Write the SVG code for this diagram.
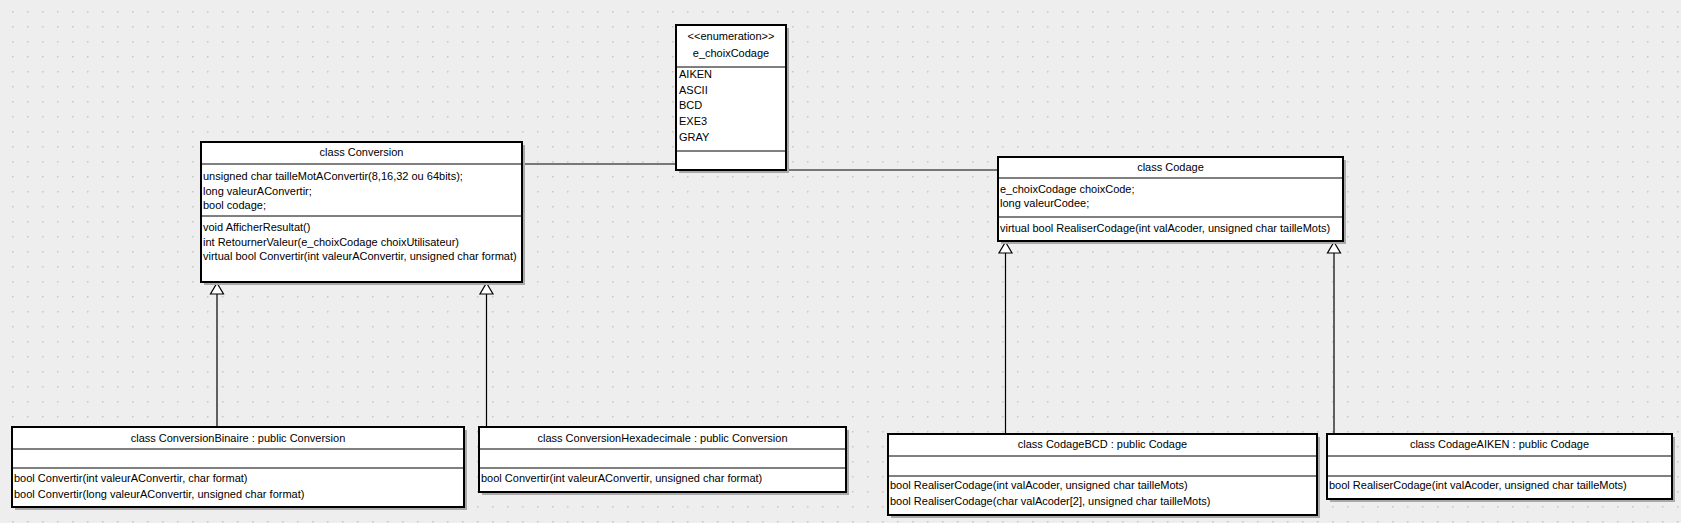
<svg xmlns="http://www.w3.org/2000/svg" width="1681" height="523" viewBox="0 0 1681 523">
<defs>
<pattern id="grid" patternUnits="userSpaceOnUse" x="12" y="11" width="15" height="15">
<rect x="0" y="0" width="1.5" height="1.5" fill="#c6c6c6"/>
</pattern>
<style>
text{font-family:"Liberation Sans",Arial,sans-serif;font-size:11px;fill:#000}
.c{text-anchor:middle}
.box{fill:#fff;stroke:#000;stroke-width:2}
.sh{fill:#a9a9a9}
.sep{stroke:#000;stroke-width:1}
.ln{stroke:#000;stroke-width:1.2;fill:none}
.tri{fill:#fff;stroke:#000;stroke-width:1.2}
</style>
</defs>
<rect width="1681" height="523" fill="#eeeeee"/>
<rect width="1681" height="523" fill="url(#grid)"/>

<g id="connectors">
<line class="ln" x1="522" y1="164" x2="676" y2="164"/>
<line class="ln" x1="786" y1="170" x2="998" y2="170"/>
<line class="ln" x1="217" y1="427" x2="217" y2="294"/>
<polygon class="tri" points="217,283 223.5,294 210.5,294"/>
<line class="ln" x1="486.5" y1="427" x2="486.5" y2="294"/>
<polygon class="tri" points="486.5,283 493,294 480,294"/>
<line class="ln" x1="1005.5" y1="434" x2="1005.5" y2="253"/>
<polygon class="tri" points="1005.5,242 1012,253 999,253"/>
<line class="ln" x1="1334" y1="434" x2="1334" y2="253"/>
<polygon class="tri" points="1334,242 1340.5,253 1327.5,253"/>
</g>

<g id="e_choixCodage">
<rect class="sh" x="679" y="28" width="110" height="145"/>
<rect class="box" x="676" y="25" width="110" height="145"/>
<line class="sep" x1="676" y1="67" x2="786" y2="67"/>
<line class="sep" x1="676" y1="151" x2="786" y2="151"/>
<text class="c" x="731" y="40">&lt;&lt;enumeration&gt;&gt;</text>
<text class="c" x="731" y="57">e_choixCodage</text>
<text x="679" y="78">AIKEN</text>
<text x="679" y="93.5">ASCII</text>
<text x="679" y="109">BCD</text>
<text x="679" y="125">EXE3</text>
<text x="679" y="140.5">GRAY</text>
</g>

<g id="Conversion">
<rect class="sh" x="204" y="145" width="321" height="140"/>
<rect class="box" x="201" y="142" width="321" height="140"/>
<line class="sep" x1="201" y1="164" x2="522" y2="164"/>
<line class="sep" x1="201" y1="216" x2="522" y2="216"/>
<text class="c" x="361.5" y="156">class Conversion</text>
<text x="203" y="180">unsigned char tailleMotAConvertir(8,16,32 ou 64bits);</text>
<text x="203" y="194.5">long valeurAConvertir;</text>
<text x="203" y="209">bool codage;</text>
<text x="203" y="231">void AfficherResultat()</text>
<text x="203" y="246">int RetournerValeur(e_choixCodage choixUtilisateur)</text>
<text x="203" y="260">virtual bool Convertir(int valeurAConvertir, unsigned char format)</text>
</g>

<g id="Codage">
<rect class="sh" x="1001" y="160" width="345" height="84"/>
<rect class="box" x="998" y="157" width="345" height="84"/>
<line class="sep" x1="998" y1="178" x2="1343" y2="178"/>
<line class="sep" x1="998" y1="217" x2="1343" y2="217"/>
<text class="c" x="1170.5" y="171">class Codage</text>
<text x="1000" y="193">e_choixCodage choixCode;</text>
<text x="1000" y="207">long valeurCodee;</text>
<text x="1000" y="232">virtual bool RealiserCodage(int valAcoder, unsigned char tailleMots)</text>
</g>

<g id="ConversionBinaire">
<rect class="sh" x="15" y="430" width="452" height="80"/>
<rect class="box" x="12" y="427" width="452" height="80"/>
<line class="sep" x1="12" y1="449" x2="464" y2="449"/>
<line class="sep" x1="12" y1="468" x2="464" y2="468"/>
<text class="c" x="238" y="442">class ConversionBinaire : public Conversion</text>
<text x="14" y="482">bool Convertir(int valeurAConvertir, char format)</text>
<text x="14" y="498">bool Convertir(long valeurAConvertir, unsigned char format)</text>
</g>

<g id="ConversionHexadecimale">
<rect class="sh" x="482" y="430" width="367" height="65"/>
<rect class="box" x="479" y="427" width="367" height="65"/>
<line class="sep" x1="479" y1="449" x2="846" y2="449"/>
<line class="sep" x1="479" y1="468" x2="846" y2="468"/>
<text class="c" x="662.5" y="442">class ConversionHexadecimale : public Conversion</text>
<text x="481" y="482">bool Convertir(int valeurAConvertir, unsigned char format)</text>
</g>

<g id="CodageBCD">
<rect class="sh" x="891" y="437" width="429" height="81"/>
<rect class="box" x="888" y="434" width="429" height="81"/>
<line class="sep" x1="888" y1="456" x2="1317" y2="456"/>
<line class="sep" x1="888" y1="476" x2="1317" y2="476"/>
<text class="c" x="1102.5" y="448">class CodageBCD : public Codage</text>
<text x="890" y="489">bool RealiserCodage(int valAcoder, unsigned char tailleMots)</text>
<text x="890" y="505">bool RealiserCodage(char valAcoder[2], unsigned char tailleMots)</text>
</g>

<g id="CodageAIKEN">
<rect class="sh" x="1330" y="437" width="345" height="65"/>
<rect class="box" x="1327" y="434" width="345" height="65"/>
<line class="sep" x1="1327" y1="456" x2="1672" y2="456"/>
<line class="sep" x1="1327" y1="476" x2="1672" y2="476"/>
<text class="c" x="1499.5" y="448">class CodageAIKEN : public Codage</text>
<text x="1329" y="489">bool RealiserCodage(int valAcoder, unsigned char tailleMots)</text>
</g>
</svg>
